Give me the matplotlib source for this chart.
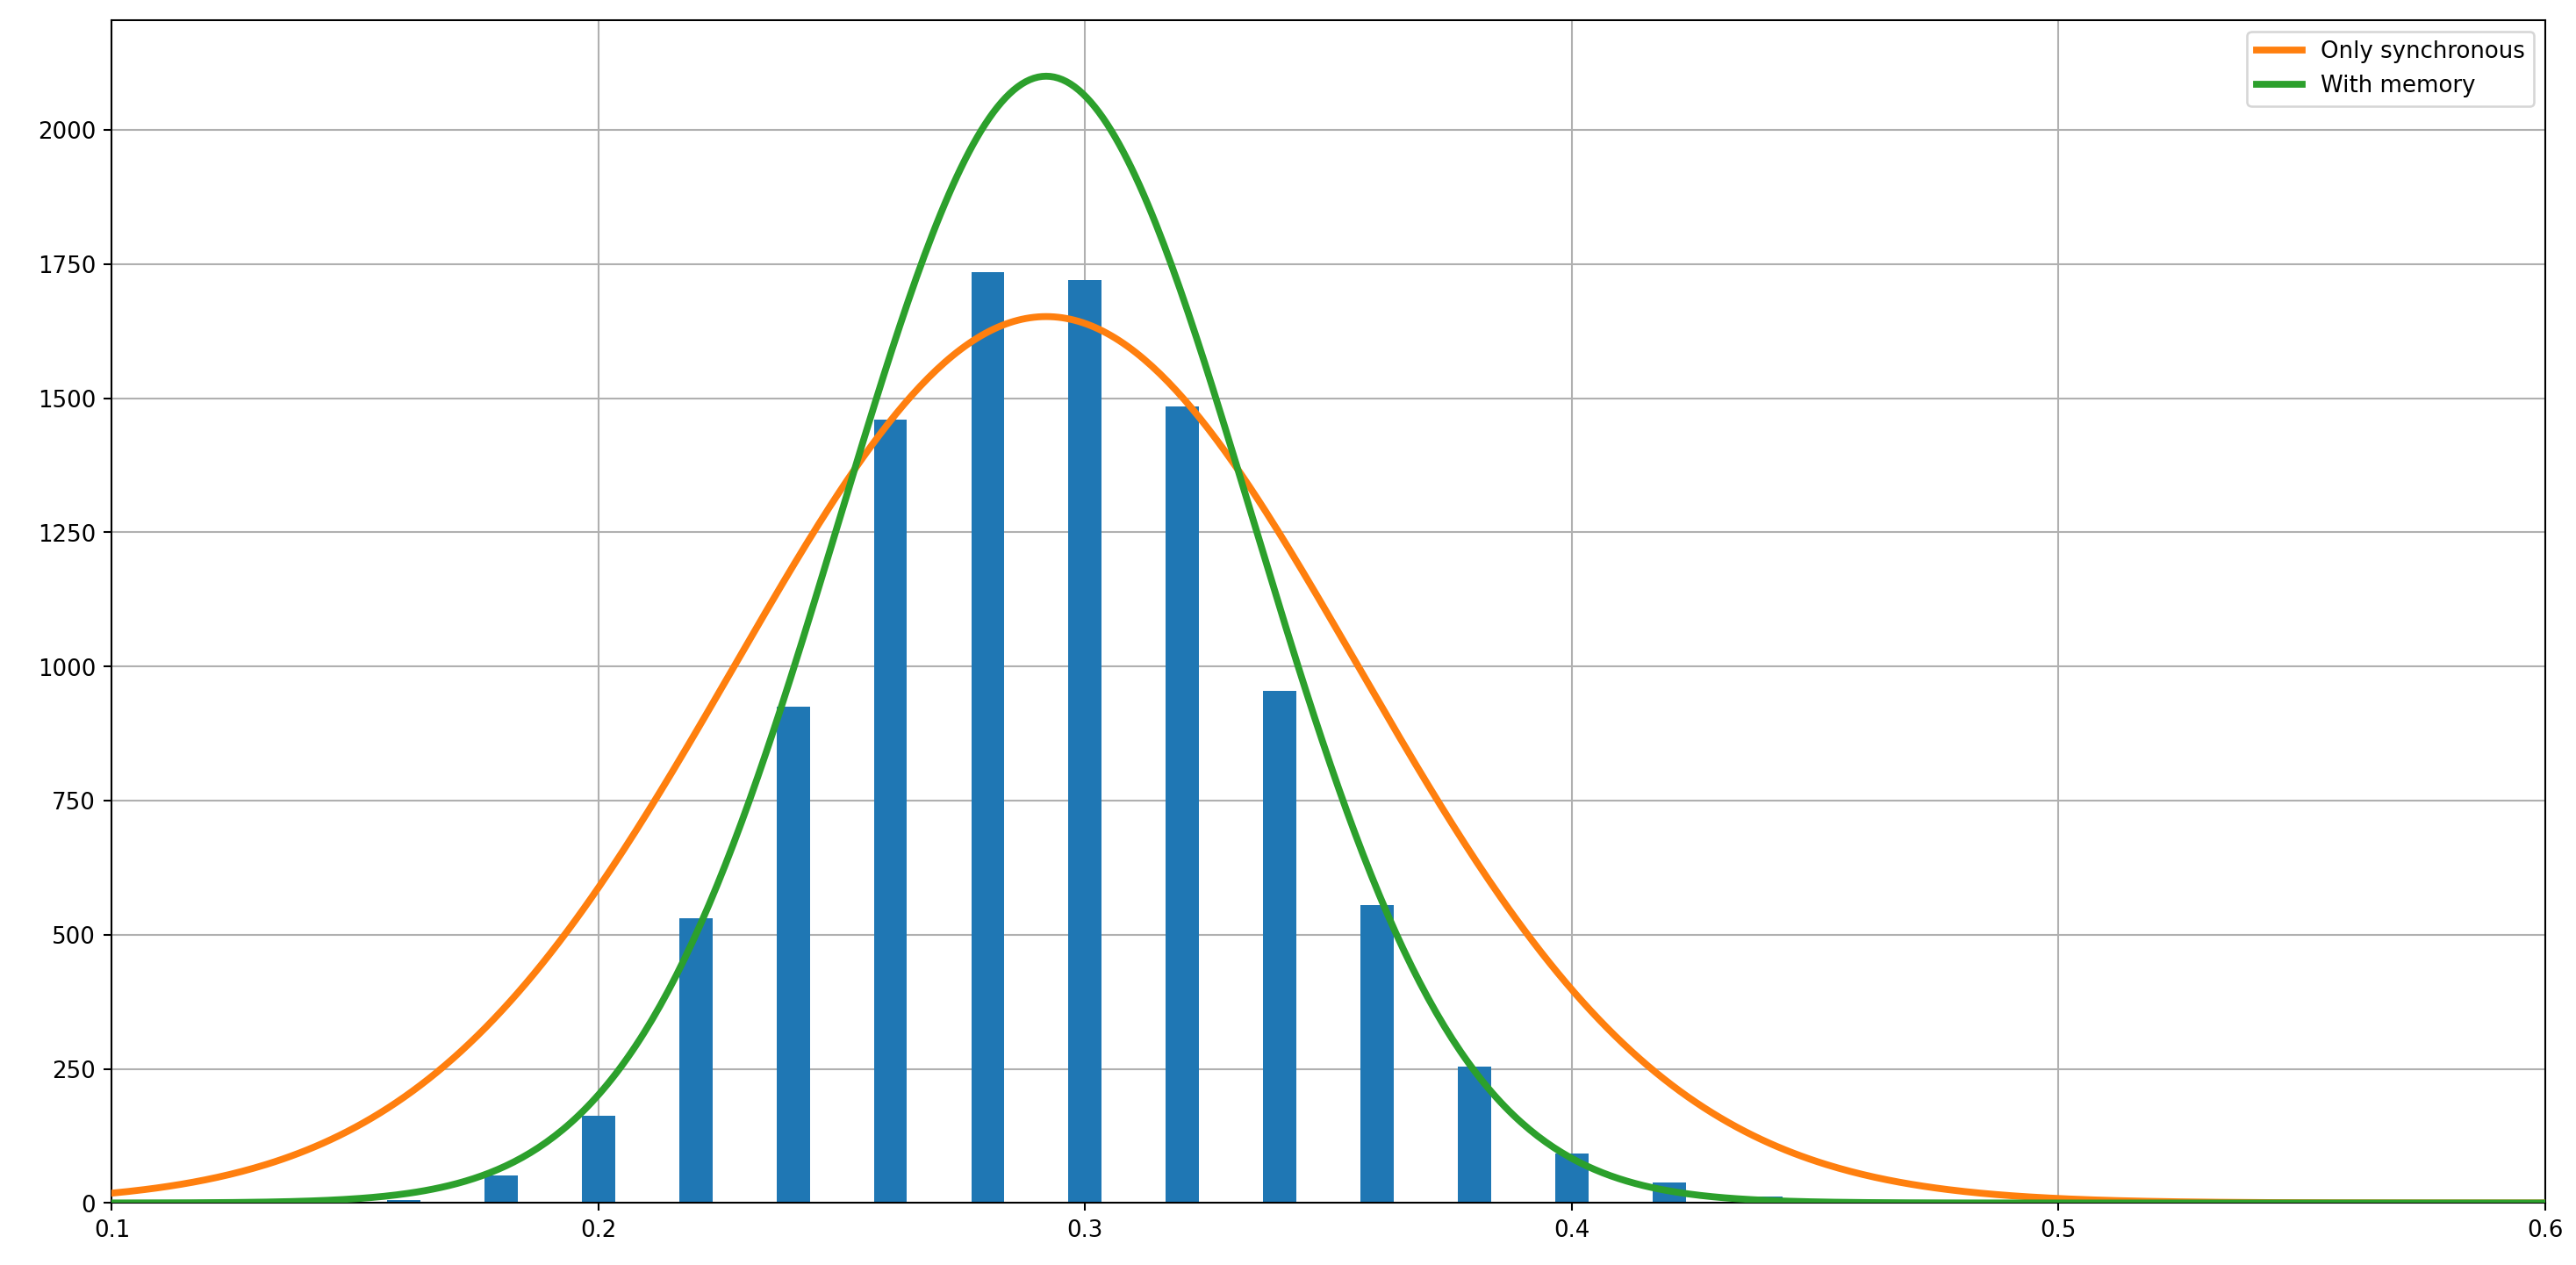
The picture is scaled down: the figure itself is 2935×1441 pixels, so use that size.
import numpy as np
import matplotlib.pyplot as plt

# histogram bins (centres) and counts
bin_centers = [0.16, 0.18, 0.20, 0.22, 0.24, 0.26, 0.28, 0.30, 0.32, 0.34,
               0.36, 0.38, 0.40, 0.42, 0.44]
counts = [5, 52, 162, 530, 925, 1460, 1735, 1720, 1485, 955,
          555, 255, 92, 38, 12]

# fitted normal curves: (peak height, mean, std)
sync_fit = (1652, 0.292, 0.064)
memory_fit = (2100, 0.292, 0.0425)

fig = plt.figure(figsize=(15.68, 7.70), dpi=187.2)
ax = fig.add_axes([0.0434, 0.049, 0.9445, 0.935])

ax.bar(bin_centers, counts, width=0.0068, color="#1f77b4", zorder=2)

x = np.linspace(0.1, 0.6, 600)
for (peak, mu, sd), color, label in [
    (sync_fit, "#ff7f0e", "Only synchronous"),
    (memory_fit, "#2ca02c", "With memory"),
]:
    ax.plot(x, peak * np.exp(-((x - mu) ** 2) / (2 * sd ** 2)),
            color=color, lw=3, label=label, zorder=3)

ax.set_xlim(0.1, 0.6)
ax.set_ylim(0, 2205)
ax.set_yticks(range(0, 2001, 250))
ax.grid(True, zorder=0)
ax.set_axisbelow(True)
ax.legend(loc="upper right")

fig.savefig("out.png", dpi=187.2)
